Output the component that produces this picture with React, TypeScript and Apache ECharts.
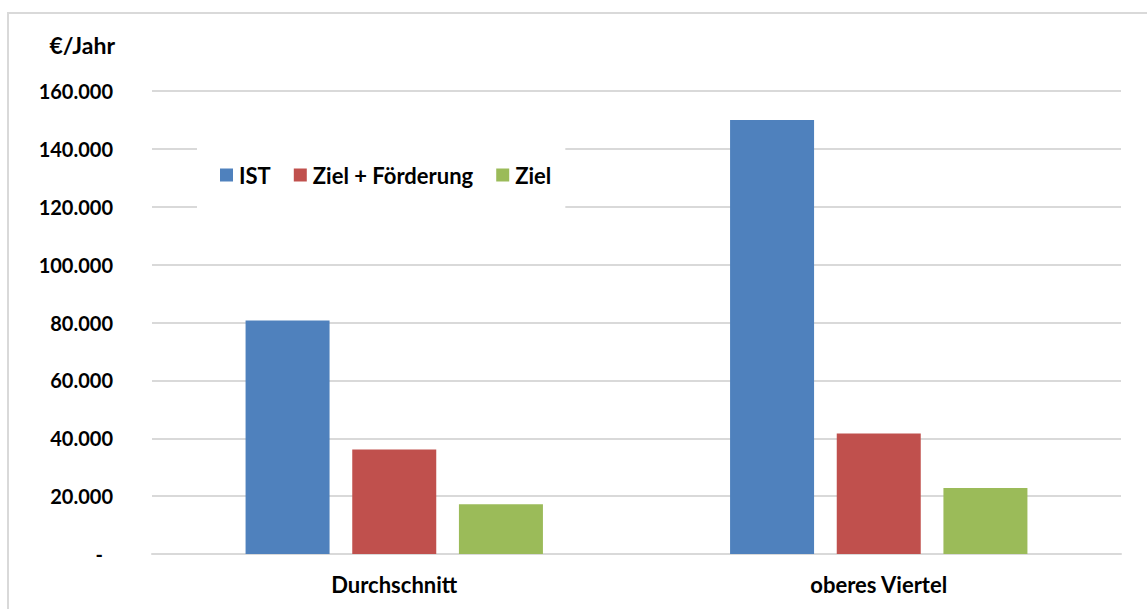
import React, { useEffect, useRef } from "react";
import * as echarts from "echarts";

const categories = ["Durchschnitt", "oberes Viertel"];
const seriesNames = ["IST", "Ziel + Förderung", "Ziel"];
const istValues = [80700, 150000];
const zielFoerderungValues = [36100, 41600];
const zielValues = [17200, 22800];
const seriesColors = ["#4f81bd", "#c0504d", "#9bbb59"];
const yMin = 0;
const yMax = 160000;
const yInterval = 20000;
const yAxisTitle = "€/Jahr";

const FONT = "Lato";

function fmt(v: number): string {
  if (v === 0) return "{dash|-}";
  return String(v).replace(/\B(?=(\d{3})+(?!\d))/g, ".");
}

export default function App() {
  const ref = useRef<HTMLDivElement>(null);
  useEffect(() => {
    if (!ref.current) return;
    const chart = echarts.init(ref.current, undefined, { renderer: "svg" });
    const values = [istValues, zielFoerderungValues, zielValues];
    chart.setOption({
      animation: false,
      backgroundColor: "#ffffff",
      textStyle: { fontFamily: FONT },
      graphic: [
        {
          type: "rect",
          shape: { x: 8, y: 13, width: 1200, height: 700 },
          style: { fill: "none", stroke: "#d9d9d9", lineWidth: 2 },
          silent: true,
          z: -10,
        },
      ],
      grid: { left: 152, right: 26, top: 91, bottom: 55, containLabel: false },
      legend: {
        data: seriesNames,
        left: 197,
        top: 140,
        orient: "horizontal",
        icon: "rect",
        itemWidth: 13,
        itemHeight: 13,
        itemGap: 23,
        backgroundColor: "#ffffff",
        padding: [24, 14, 24, 23],
        textStyle: { fontFamily: FONT, fontWeight: "bold", fontSize: 22, color: "#000000", padding: [0, 0, 0, 1] },
        z: 10,
      },
      xAxis: {
        type: "category",
        data: categories,
        axisTick: { show: false },
        axisLine: { lineStyle: { color: "#d9d9d9", width: 2 } },
        axisLabel: { fontFamily: FONT, fontWeight: "bold", fontSize: 22, color: "#000000", margin: 19 },
      },
      yAxis: {
        type: "value",
        min: yMin,
        max: yMax,
        interval: yInterval,
        name: yAxisTitle,
        nameLocation: "end",
        nameGap: 46,
        nameTextStyle: {
          fontFamily: FONT,
          fontWeight: "bold",
          fontSize: 23,
          color: "#000000",
          align: "right",
          verticalAlign: "middle",
          padding: [0, 37, 0, 0],
        },
        axisLine: { show: false },
        axisTick: { show: false },
        splitLine: { lineStyle: { color: "#d9d9d9", width: 2 } },
        axisLabel: {
          fontFamily: FONT,
          fontWeight: "bold",
          fontSize: 20,
          color: "#000000",
          margin: 39,
          formatter: fmt,
          rich: {
            dash: { fontFamily: FONT, fontWeight: "bold", fontSize: 20, color: "#000000", padding: [0, 10, 0, 0] },
          },
        },
      },
      series: seriesNames.map((name, i) => ({
        name,
        type: "bar",
        data: values[i],
        barWidth: 84,
        barGap: "27%",
        itemStyle: { color: seriesColors[i] },
      })),
    });
    return () => chart.dispose();
  }, []);
  return (
    <div
      ref={ref}
      style={{ position: "fixed", left: 0, top: 0, width: 1147, height: 609 }}
    />
  );
}
